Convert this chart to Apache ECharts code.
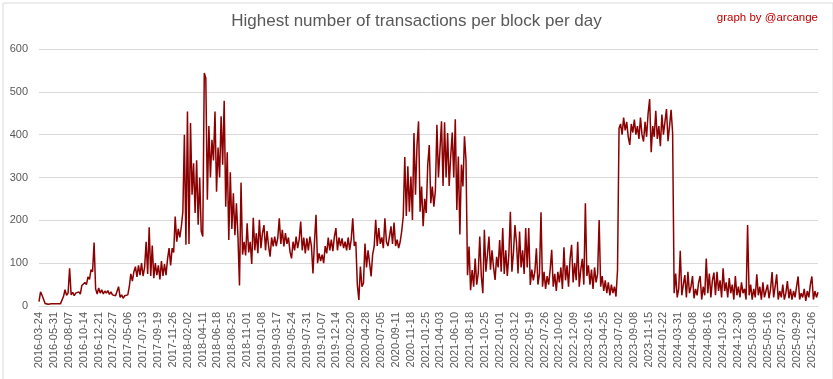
<!DOCTYPE html>
<html>
<head>
<meta charset="utf-8">
<script src="https://cdn.jsdelivr.net/npm/echarts@6/dist/echarts.min.js"></script>
<style>html,body{margin:0;padding:0;background:#fff}#c{width:833px;height:379px}</style>
</head>
<body>
<div id="c"></div>
<script>
// Tick labels on the category (day) axis, one every 68 samples-days
const tickLabels = ["2016-03-24","2016-05-31","2016-08-07","2016-10-14","2016-12-21","2017-02-27","2017-05-06","2017-07-13","2017-09-19","2017-11-26","2018-02-02","2018-04-11","2018-06-18","2018-08-25","2018-11-01","2019-01-08","2019-03-17","2019-05-24","2019-07-31","2019-10-07","2019-12-14","2020-02-20","2020-04-28","2020-07-05","2020-09-11","2020-11-18","2021-01-25","2021-04-03","2021-06-10","2021-08-18","2021-10-25","2022-01-01","2022-03-12","2022-05-19","2022-07-26","2022-10-02","2022-12-09","2023-02-16","2023-04-25","2023-07-02","2023-09-08","2023-11-15","2024-01-22","2024-03-31","2024-06-08","2024-08-16","2024-10-23","2024-12-30","2025-03-08","2025-05-16","2025-07-23","2025-09-29","2025-12-06"];
const tickEvery = 68;     // days between labels
const totalDays = 3563;   // days on the axis
const sampleStep = 7;     // days between values

// Highest transactions per block (alternating highs/lows)
const vals2016to2018 = [10,33,25,24,6,5,4,5,5,4,5,6,5,4,5,6,22,38,25,30,88,26,32,24,30,27,33,28,48,44,55,50,68,62,85,80,148,40,28,42,30,38,28,35,30,36,27,33,26,30,24,28,45,20,26,18,24,20,26,45,75,58,80,92,68,95,72,100,70,90,150,75,184,70,141,65,100,72,95,62,105,70,98,72,110,135,95,135,125,209,150,180,160,185,220,400,143,454,145,427];
const vals2018to2020 = [260,333,217,340,190,300,175,162,544,532,248,420,300,388,340,454,267,370,300,443,330,479,232,359,154,312,180,263,165,240,162,48,288,120,150,118,193,125,150,98,206,130,170,123,201,135,170,189,130,175,140,115,160,139,162,140,158,205,145,178,139,170,145,160,127,111,150,130,162,135,155,197,130,160,123,158,130,162,140,76,150,213,100,123,105,120,100,140,123,160,130,155,128,162,182,130,160,140,158,135];
const vals2020to2022 = [150,130,160,131,155,205,140,150,50,14,92,45,53,146,90,130,100,69,120,139,201,140,182,145,160,135,205,150,140,162,186,145,195,140,155,135,150,175,209,348,210,326,220,302,201,404,260,376,431,220,279,186,250,217,330,376,240,279,232,270,423,300,365,431,280,429,300,404,280,349,405,300,436,224,349,167,330,279,396,340,72,139,37,84,45,111,50,76,162,70,30,178,80,120,162,85,130,90,61,115];
const vals2022to2024 = [90,154,80,182,75,130,70,120,220,80,125,189,147,76,174,90,130,75,182,90,182,49,85,60,80,135,50,75,219,45,80,40,70,50,85,131,45,75,35,80,55,90,40,137,60,95,45,110,143,55,100,60,150,45,85,110,50,240,70,95,50,85,40,90,55,75,201,45,70,35,60,30,55,25,50,30,45,22,84,415,425,400,440,410,430,395,376,425,405,435,400,420,390,440,400,384,430,395,450,483];
const vals2024to2025 = [359,420,395,456,390,420,373,447,400,430,460,385,420,458,405,30,76,20,40,129,25,50,72,20,80,30,45,70,18,40,25,55,70,15,45,25,111,30,76,20,60,78,25,80,35,60,20,88,35,55,20,65,30,50,15,70,25,45,20,55,30,40,15,189,25,50,15,40,20,74,25,45,15,55,20,35,50,18,40,79,20,45,74,15,35,20,50,15,30,58,18,40,15,35,20,45,69,15,30,20,40,12,35,20,50,69,15,35,20,32];

const yTicks = [0,100,200,300,400,500,600];

const allVals = [].concat(vals2016to2018, vals2018to2020, vals2020to2022, vals2022to2024, vals2024to2025);
const seriesData = allVals.map((v, i) => [i * sampleStep, v]);

const chart = echarts.init(document.getElementById('c'), null, {renderer: 'canvas'});
chart.setOption({
  animation: false,
  backgroundColor: '#ffffff',
  graphic: [{
    type: 'rect', left: 0.5, top: 0.5, silent: true,
    shape: {x: 0.5, y: 0.5, width: 830, height: 377},
    style: {fill: 'none', stroke: '#d9d9d9', lineWidth: 1}
  }],
  title: [{
    text: 'Highest number of transactions per block per day',
    left: 'center', top: 8,
    textStyle: {fontFamily: 'Liberation Sans', fontSize: 17, fontWeight: 'normal', color: '#595959'}
  }, {
    text: 'graph by @arcange',
    right: 10, top: 7,
    textStyle: {fontFamily: 'Liberation Sans', fontSize: 11.5, fontWeight: 'normal', color: '#c00000'}
  }],
  grid: {left: 39, right: 15, top: 49, bottom: 73, containLabel: false},
  xAxis: {
    type: 'value', min: 0, max: totalDays, interval: tickEvery,
    axisLine: {show: true, lineStyle: {color: '#d9d9d9', width: 1}},
    axisTick: {show: false},
    splitLine: {show: false},
    axisLabel: {
      rotate: 90, margin: 6, fontSize: 11, color: '#595959', fontFamily: 'Liberation Sans',
      showMaxLabel: false,
      formatter: function (v) {
        if (v % tickEvery !== 0) return '';
        const i = v / tickEvery;
        return tickLabels[i] || '';
      }
    }
  },
  yAxis: {
    type: 'value', min: yTicks[0], max: yTicks[yTicks.length - 1], interval: 100,
    axisLine: {show: false}, axisTick: {show: false},
    splitLine: {lineStyle: {color: '#d9d9d9', width: 1}},
    axisLabel: {margin: 11, fontSize: 11, color: '#595959', fontFamily: 'Liberation Sans'}
  },
  series: [{
    type: 'line', data: seriesData, showSymbol: false, symbol: 'none',
    lineStyle: {color: '#8b0000', width: 1.5},
    itemStyle: {color: '#8b0000'}
  }]
});
</script>
</body>
</html>
